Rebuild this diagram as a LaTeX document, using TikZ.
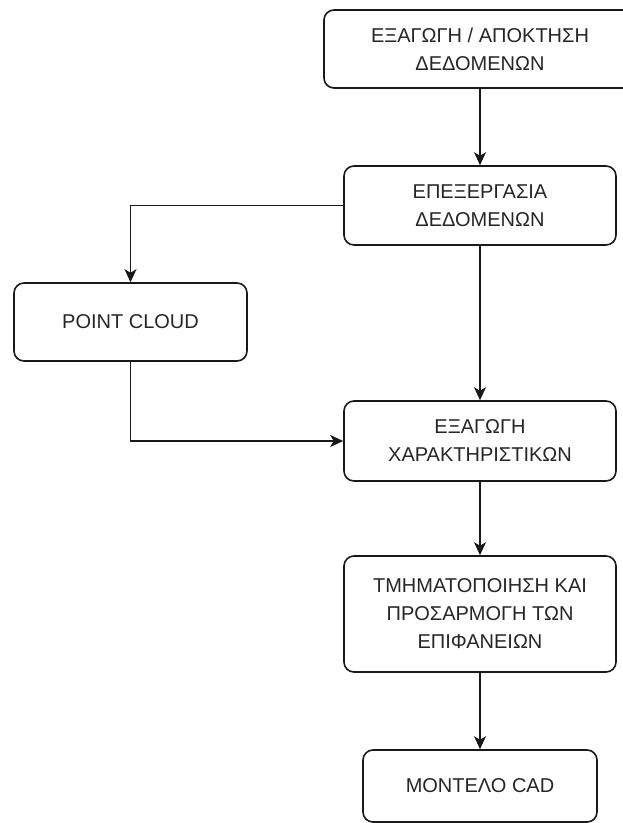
\documentclass[tikz,border=0pt]{standalone}
\usepackage{fontspec}
\setmainfont{Liberation Sans}
\usetikzlibrary{arrows.meta}
\begin{document}
\begin{tikzpicture}[x=1pt,y=-1pt,
  box/.style={draw=black!90, line width=1.6pt, rounded corners=10pt, rectangle,
    inner sep=0pt, align=center, text=black!85,
    font=\fontsize{20}{28}\selectfont},
  conn/.style={draw=black!90, line width=1.6pt, -{Stealth[length=13pt,width=12pt,inset=3.5pt]}}]
\useasboundingbox (0,0) rectangle (622,823);
\node[box, minimum width=312pt, minimum height=78pt] (b1) at (480,49) {ΕΞΑΓΩΓΗ / ΑΠΟΚΤΗΣΗ\\ΔΕΔΟΜΕΝΩΝ};
\node[box, minimum width=272pt, minimum height=79pt] (b2) at (480,205.5) {ΕΠΕΞΕΡΓΑΣΙΑ\\ΔΕΔΟΜΕΝΩΝ};
\node[box, minimum width=233pt, minimum height=78pt] (pc) at (130.5,322) {POINT CLOUD};
\node[box, minimum width=272pt, minimum height=80pt] (b3) at (480,441) {ΕΞΑΓΩΓΗ\\ΧΑΡΑΚΤΗΡΙΣΤΙΚΩΝ};
\node[box, minimum width=272pt, minimum height=116pt] (b4) at (480,614) {ΤΜΗΜΑΤΟΠΟΙΗΣΗ ΚΑΙ\\ΠΡΟΣΑΡΜΟΓΗ ΤΩΝ\\ΕΠΙΦΑΝΕΙΩΝ};
\node[box, minimum width=234pt, minimum height=72pt] (b5) at (480,786) {ΜΟΝΤΕΛΟ CAD};
\draw[conn] (b1.south) -- (b2.north);
\draw[conn] (b2.west) -| (pc.north);
\draw[conn] (b2.south) -- (b3.north);
\draw[conn] (pc.south) |- (b3.west);
\draw[conn] (b3.south) -- (b4.north);
\draw[conn] (b4.south) -- (b5.north);
\end{tikzpicture}
\end{document}
